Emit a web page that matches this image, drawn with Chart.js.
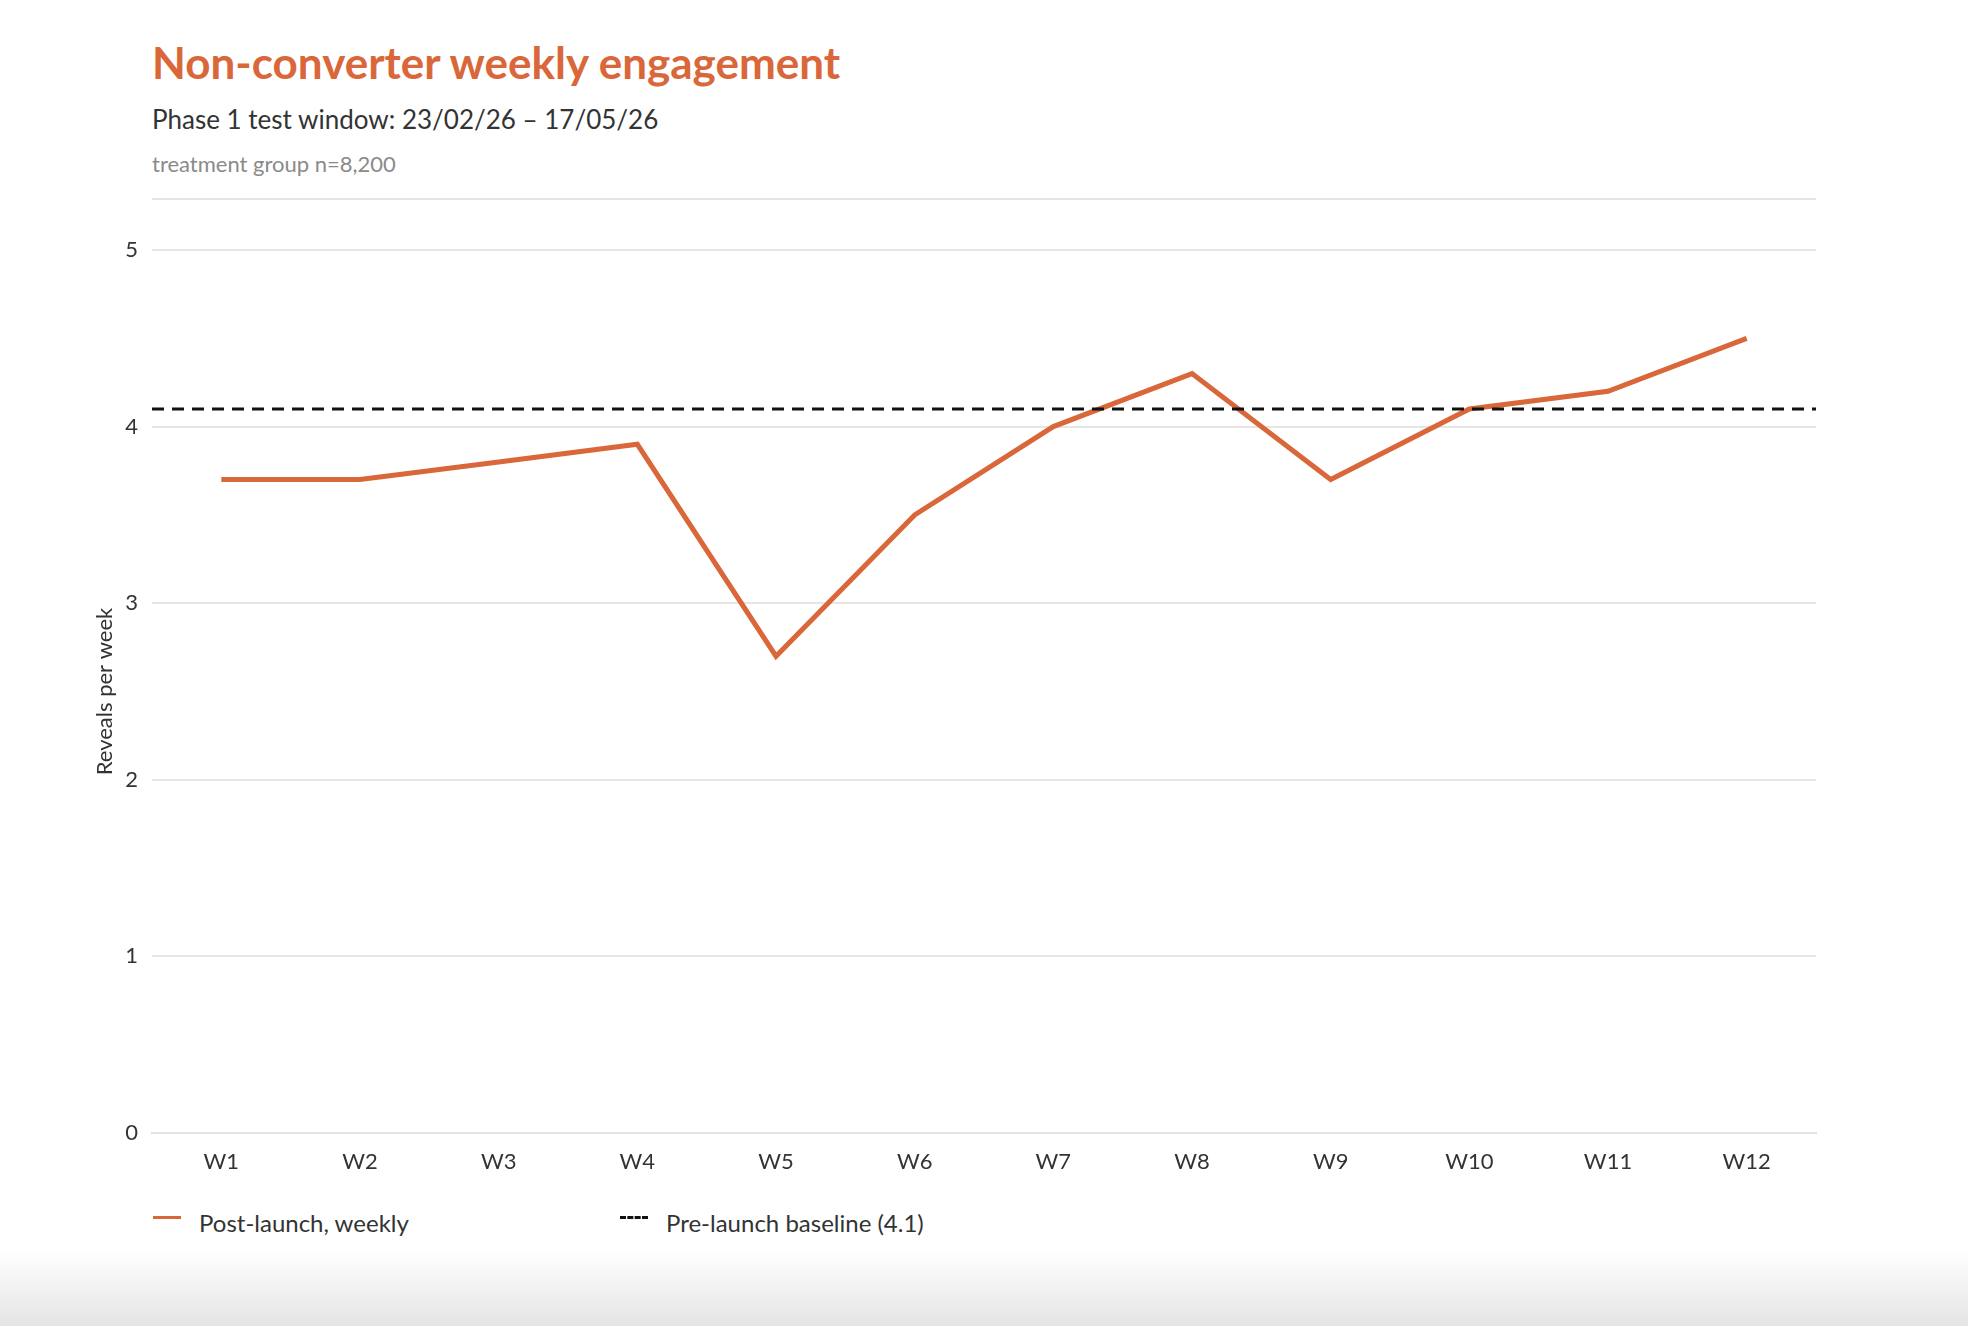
<html>
<head>
<script src="https://cdn.jsdelivr.net/npm/chart.js"></script>
<style>
  body { margin:0; width:1968px; height:1326px; background:linear-gradient(to bottom,#fff 0,#fff 1250px,#e4e4e4 1326px); font-family:Lato,sans-serif; position:relative; overflow:hidden; }
  .title { position:absolute; left:152px; top:36px; font-size:44px; font-weight:bold; color:#d9673a; }
  .sub { position:absolute; left:152px; top:103px; font-size:26px; color:#333; }
  .note { position:absolute; left:152px; top:150px; font-size:22px; color:#8a8a8a; }
  .rule { position:absolute; left:152px; top:198px; width:1664px; height:2px; background:#e3e3e3; }
  #wrap { position:absolute; left:0; top:200px; width:1968px; height:993px; }
  .legend { position:absolute; top:1208px; font-size:24px; color:#333; }
  .sw { display:inline-block; width:28px; vertical-align:middle; margin-right:18px; position:relative; top:-8px; }
</style>
</head>
<body>
<div class="title">Non-converter weekly engagement</div>
<div class="sub">Phase 1 test window: 23/02/26 – 17/05/26</div>
<div class="note">treatment group n=8,200</div>
<div class="rule"></div>
<div id="wrap"><canvas id="chart"></canvas></div>
<div class="legend" style="left:153px"><span class="sw" style="border-top:3px solid #d9673a"></span>Post-launch, weekly</div>
<div class="legend" style="left:620px"><span class="sw" style="border-top:3px dashed #111"></span>Pre-launch baseline (4.1)</div>
<script>
  const weeks = ['W1','W2','W3','W4','W5','W6','W7','W8','W9','W10','W11','W12'];
  const weekly = [3.7,3.7,3.8,3.9,2.7,3.5,4.0,4.3,3.7,4.1,4.2,4.5];
  const baseline = 4.1;

  const baselinePlugin = {
    id: 'baseline',
    afterDatasetsDraw(chart) {
      const {ctx, chartArea, scales} = chart;
      const y = scales.y.getPixelForValue(baseline);
      ctx.save();
      ctx.strokeStyle = '#111';
      ctx.lineWidth = 3;
      ctx.setLineDash([12, 8]);
      ctx.beginPath();
      ctx.moveTo(chartArea.left, y);
      ctx.lineTo(chartArea.right, y);
      ctx.stroke();
      ctx.restore();
    }
  };

  new Chart(document.getElementById('chart'), {
    type: 'line',
    data: {
      labels: weeks,
      datasets: [{
        label: 'Post-launch, weekly',
        data: weekly,
        borderColor: '#d9673a',
        borderWidth: 5,
        pointRadius: 0,
        tension: 0
      }]
    },
    plugins: [baselinePlugin],
    options: {
      responsive: true,
      maintainAspectRatio: false,
      animation: false,
      layout: { padding: { left: 92, right: 152, top: 50, bottom: 0 } },
      plugins: { legend: { display: false }, tooltip: { enabled: false } },
      scales: {
        x: {
          offset: true,
          grid: { display: false },
          border: { display: true, color: '#e3e3e3', width: 2 },
          ticks: { color: '#333', font: { family: 'Lato', size: 22 }, padding: 8 },
          afterFit: s => { s.height = 60; }
        },
        y: {
          min: 0, max: 5,
          ticks: { stepSize: 1, color: '#333', font: { family: 'Lato', size: 22 }, padding: 14 },
          grid: { color: '#e6e6e6', lineWidth: 2, drawTicks: false },
          border: { display: false },
          title: { display: true, text: 'Reveals per week', color: '#333', font: { family: 'Lato', size: 22 }, padding: 0 },
          afterFit: s => { s.width = 60; }
        }
      }
    }
  });
</script>
</body>
</html>
